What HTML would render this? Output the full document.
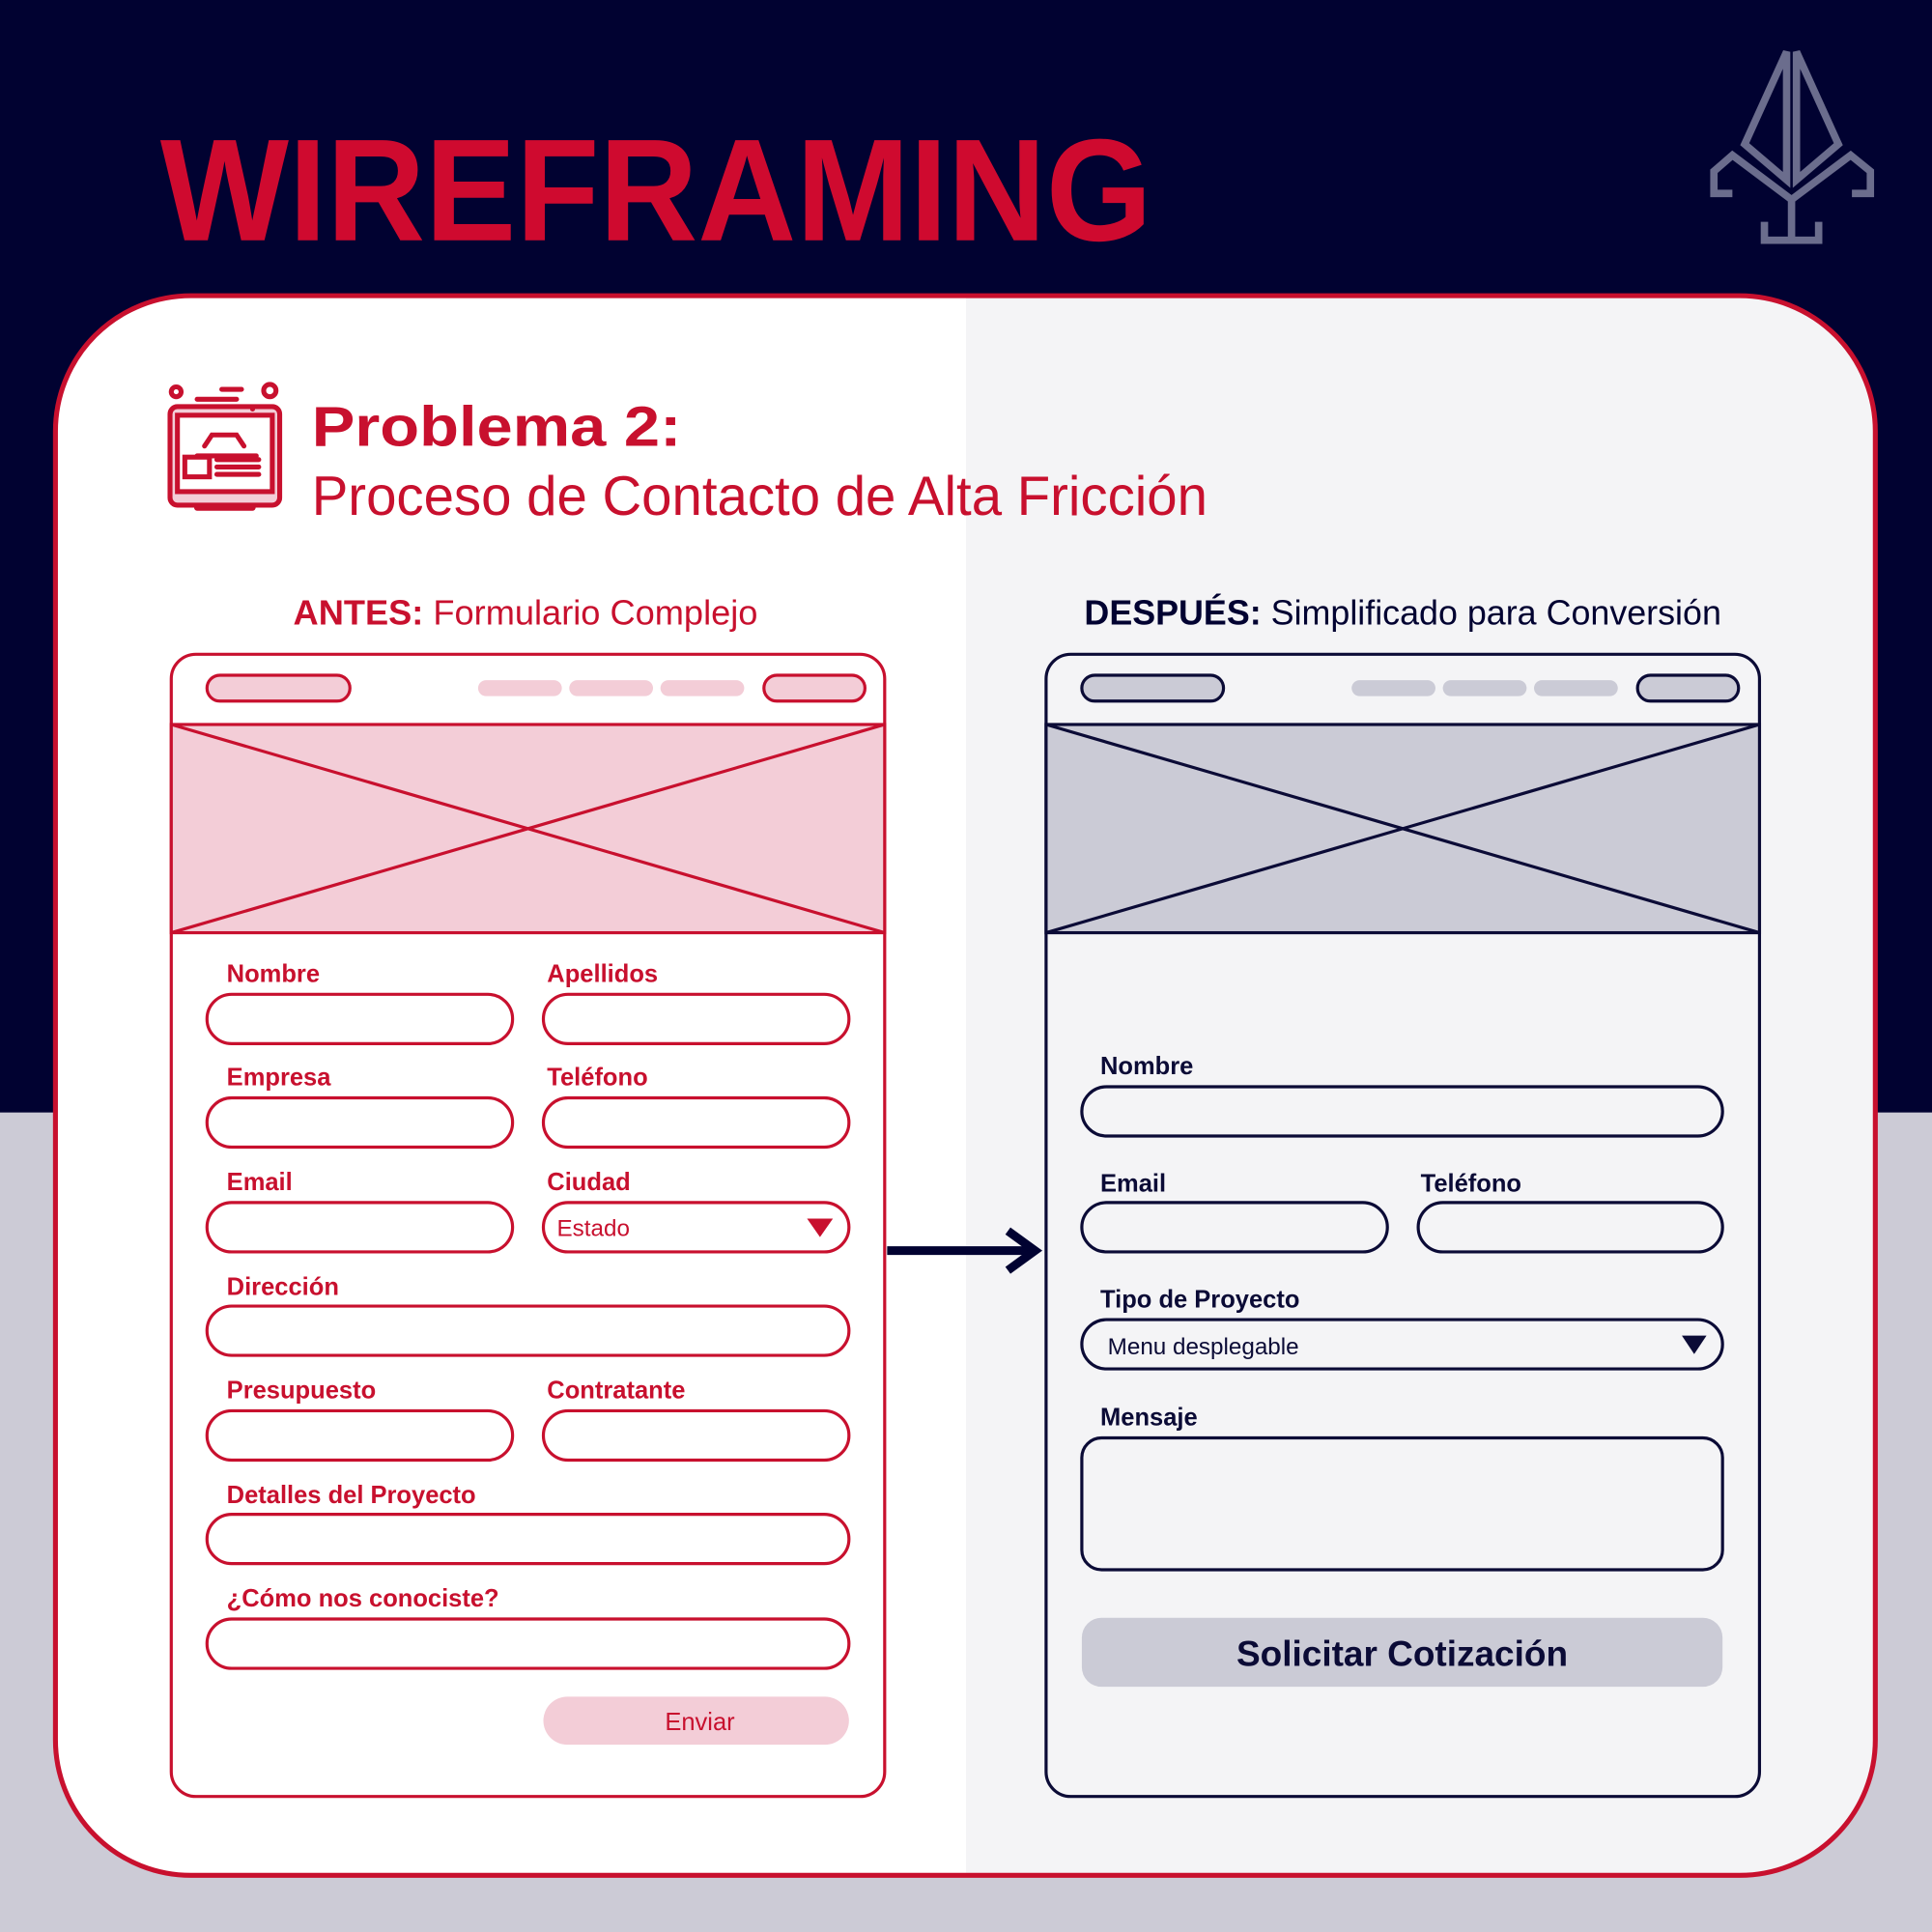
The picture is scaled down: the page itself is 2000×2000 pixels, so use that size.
<!DOCTYPE html>
<html><head><meta charset="utf-8"><style>
html,body{margin:0;padding:0;width:2000px;height:2000px;overflow:hidden}
svg{display:block}
text{font-family:"Liberation Sans",sans-serif}
</style></head><body>
<svg width="2000" height="2000" viewBox="0 0 1568 1568" xmlns="http://www.w3.org/2000/svg">
<defs><clipPath id="card"><rect x="45" y="240" width="1477" height="1282" rx="110"/></clipPath></defs>
<rect x="0" y="0" width="1568" height="903" fill="#010231"/>
<rect x="0" y="903" width="1568" height="665" fill="#cccbd6"/>
<text x="130" y="195" font-size="118" font-weight="900" fill="#cf0a2f" textLength="805" lengthAdjust="spacingAndGlyphs">WIREFRAMING</text>
<g fill="none" stroke="#6b6d8d" stroke-width="6" stroke-linejoin="miter">
<polygon points="1450,42 1416,117 1450,146"/>
<polygon points="1458,42 1492,117 1458,146"/>
<polyline points="1406,157 1391,157 1391,139 1406,126 1454,162 1502,126 1518,139 1518,157 1503,157"/>
<polyline points="1432,180 1432,195 1476,195 1476,180"/>
<line x1="1454" y1="162" x2="1454" y2="195"/>
</g>
<g clip-path="url(#card)">
<rect x="45" y="240" width="740" height="1282" fill="#ffffff"/>
<rect x="784" y="240" width="740" height="1282" fill="#f4f4f6"/>
</g>
<rect x="45" y="240" width="1477" height="1282" rx="110" fill="none" stroke="#c8102e" stroke-width="4"/>
<!-- icon -->
<g stroke="#c8102e" stroke-width="4" fill="none" stroke-linecap="round">
<rect x="138" y="330" width="89" height="80" rx="6" fill="#f3cdd7"/>
<rect x="144" y="337" width="77" height="62" fill="#fff"/>
<rect x="193" y="400" width="0" height="0"/>
<line x1="160" y1="412" x2="205" y2="412" stroke-width="5"/>
<line x1="160" y1="370" x2="208" y2="370"/>
<path d="M166 362 L172 353 L192 353 L198 362"/>
<rect x="150" y="371" width="20" height="16"/>
<line x1="176" y1="373" x2="210" y2="373"/><line x1="176" y1="379" x2="210" y2="379"/><line x1="176" y1="385" x2="210" y2="385"/>
<line x1="205" y1="332" x2="205" y2="332"/>
<line x1="160" y1="324" x2="192" y2="324"/><line x1="180" y1="316" x2="196" y2="316"/>
<circle cx="143" cy="318" r="4"/><circle cx="219" cy="317" r="5"/>
</g>
<text x="253" y="362" font-size="46" font-weight="bold" fill="#c8102e" textLength="300" lengthAdjust="spacingAndGlyphs">Problema 2:</text>
<text x="253" y="418" font-size="45" fill="#c8102e" textLength="727" lengthAdjust="spacingAndGlyphs">Proceso de Contacto de Alta Fricción</text>
<text x="238" y="507" font-size="28" fill="#c8102e" textLength="377" lengthAdjust="spacingAndGlyphs"><tspan font-weight="bold">ANTES:</tspan> Formulario Complejo</text>
<text x="880" y="507" font-size="28" fill="#010231" textLength="517" lengthAdjust="spacingAndGlyphs"><tspan font-weight="bold">DESPUÉS:</tspan> Simplificado para Conversión</text>

<!-- LEFT WIREFRAME -->
<g stroke="#c8102e" stroke-width="2.5">
<rect x="139" y="531" width="579" height="927" rx="20" fill="#fff"/>
<rect x="139" y="588" width="579" height="169" fill="#f3cdd7"/>
<line x1="139" y1="588" x2="718" y2="757"/><line x1="718" y1="588" x2="139" y2="757"/>
<rect x="168" y="548" width="116" height="21" rx="10.5" fill="#f3cdd7"/>
<rect x="620" y="548" width="82" height="21" rx="10.5" fill="#f3cdd7"/>
</g>
<g fill="#f3cdd7">
<rect x="388" y="552" width="68" height="13" rx="6.5"/><rect x="462" y="552" width="68" height="13" rx="6.5"/><rect x="536" y="552" width="68" height="13" rx="6.5"/>
</g>
<g fill="none" stroke="#c8102e" stroke-width="2.5">
<rect x="168" y="807" width="248" height="40" rx="20"/><rect x="441" y="807" width="248" height="40" rx="20"/>
<rect x="168" y="891" width="248" height="40" rx="20"/><rect x="441" y="891" width="248" height="40" rx="20"/>
<rect x="168" y="976" width="248" height="40" rx="20"/><rect x="441" y="976" width="248" height="40" rx="20"/>
<rect x="168" y="1060" width="521" height="40" rx="20"/>
<rect x="168" y="1145" width="248" height="40" rx="20"/><rect x="441" y="1145" width="248" height="40" rx="20"/>
<rect x="168" y="1229" width="521" height="40" rx="20"/>
<rect x="168" y="1314" width="521" height="40" rx="20"/>
</g>
<g font-size="20" font-weight="bold" fill="#c8102e">
<text x="184" y="797">Nombre</text><text x="444" y="797">Apellidos</text>
<text x="184" y="881">Empresa</text><text x="444" y="881">Teléfono</text>
<text x="184" y="966">Email</text><text x="444" y="966">Ciudad</text>
<text x="184" y="1051">Dirección</text>
<text x="184" y="1135">Presupuesto</text><text x="444" y="1135">Contratante</text>
<text x="184" y="1220">Detalles del Proyecto</text>
<text x="184" y="1304">¿Cómo nos conociste?</text>
</g>
<text x="452" y="1003" font-size="19" fill="#c8102e">Estado</text>
<polygon points="655,989 676,989 665.5,1004" fill="#c8102e"/>
<rect x="441" y="1377" width="248" height="39" rx="19.5" fill="#f3cdd7"/>
<text x="568" y="1404" font-size="20" fill="#c8102e" text-anchor="middle">Enviar</text>

<!-- arrow -->
<line x1="720" y1="1015" x2="838" y2="1015" stroke="#010231" stroke-width="7"/>
<polyline points="818,999 840,1015 818,1031" fill="none" stroke="#010231" stroke-width="7"/>

<!-- RIGHT WIREFRAME -->
<g stroke="#0b0b36" stroke-width="2.5">
<rect x="849" y="531" width="579" height="927" rx="20" fill="#f4f4f6"/>
<rect x="849" y="588" width="579" height="169" fill="#cbcbd6"/>
<line x1="849" y1="588" x2="1428" y2="757"/><line x1="1428" y1="588" x2="849" y2="757"/>
<rect x="878" y="548" width="115" height="21" rx="10.5" fill="#cbcbd6"/>
<rect x="1329" y="548" width="82" height="21" rx="10.5" fill="#cbcbd6"/>
</g>
<g fill="#cbcbd6">
<rect x="1097" y="552" width="68" height="13" rx="6.5"/><rect x="1171" y="552" width="68" height="13" rx="6.5"/><rect x="1245" y="552" width="68" height="13" rx="6.5"/>
</g>
<g fill="none" stroke="#0b0b36" stroke-width="2.5">
<rect x="878" y="882" width="520" height="40" rx="20"/>
<rect x="878" y="976" width="248" height="40" rx="20"/><rect x="1151" y="976" width="247" height="40" rx="20"/>
<rect x="878" y="1071" width="520" height="40" rx="20"/>
<rect x="878" y="1167" width="520" height="107" rx="16"/>
</g>
<g font-size="20" font-weight="bold" fill="#0b0b36">
<text x="893" y="872">Nombre</text>
<text x="893" y="967">Email</text><text x="1153" y="967">Teléfono</text>
<text x="893" y="1061">Tipo de Proyecto</text>
<text x="893" y="1157">Mensaje</text>
</g>
<text x="899" y="1099" font-size="19" fill="#0b0b36">Menu desplegable</text>
<polygon points="1365,1084 1385,1084 1375,1099" fill="#0b0b36"/>
<rect x="878" y="1313" width="520" height="56" rx="16" fill="#cbcbd6"/>
<text x="1138" y="1352" font-size="29" font-weight="bold" fill="#0b0b36" text-anchor="middle">Solicitar Cotización</text>
</svg>
</body></html>
